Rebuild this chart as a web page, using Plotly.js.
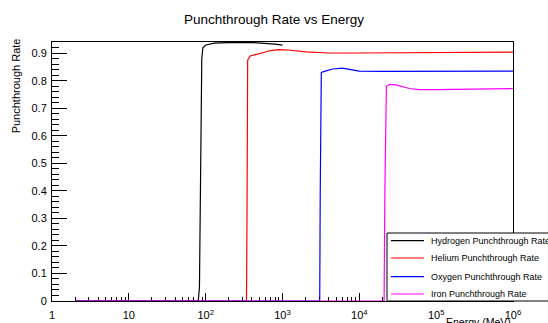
<!DOCTYPE html>
<html><head><meta charset="utf-8">
<script src="https://cdn.plot.ly/plotly-3.0.1.min.js"></script>
<style>html,body{margin:0;padding:0;background:#fff}#chart{width:548px;height:323px}</style>
</head><body><div id="chart"></div>
<script>
// Energy in MeV, punchthrough rate
const hydrogenE = [2, 80, 83, 85, 87, 89, 92, 100, 130, 200, 400, 600, 800, 1000];
const hydrogenR = [0, 0, 0.05, 0.4, 0.75, 0.88, 0.92, 0.93, 0.937, 0.939, 0.939, 0.937, 0.933, 0.93];
const heliumE = [2, 340, 345, 348, 352, 380, 500, 700, 900, 1200, 2000, 4000, 10000, 100000, 1000000];
const heliumR = [0, 0, 0.3, 0.8, 0.875, 0.89, 0.9, 0.91, 0.913, 0.912, 0.905, 0.901, 0.901, 0.902, 0.904];
const oxygenE = [2, 3050, 3100, 3150, 3200, 3600, 4500, 6000, 8000, 10000, 20000, 100000, 1000000];
const oxygenR = [0, 0, 0.4, 0.8, 0.83, 0.835, 0.843, 0.846, 0.84, 0.835, 0.834, 0.834, 0.835];
const ironE = [2, 21000, 21500, 22000, 22500, 25000, 30000, 45000, 60000, 100000, 300000, 1000000];
const ironR = [0, 0, 0.4, 0.75, 0.78, 0.787, 0.785, 0.772, 0.768, 0.768, 0.77, 0.772];
const seriesNames = ["Hydrogen Punchthrough Rate", "Helium Punchthrough Rate", "Oxygen Punchthrough Rate", "Iron Punchthrough Rate"];
const xTickVals = [1, 10, 100, 1000, 10000, 100000, 1000000];
const xTickText = ["1", "10", "10<sup>2</sup>", "10<sup>3</sup>", "10<sup>4</sup>", "10<sup>5</sup>", "10<sup>6</sup>"];

const FONT = "Liberation Sans, Arial, Helvetica, sans-serif";
const colors = ["#000000", "#ff0000", "#0000ff", "#ff00ff"];
const xs = [hydrogenE, heliumE, oxygenE, ironE];
const ys = [hydrogenR, heliumR, oxygenR, ironR];
const traces = xs.map((x, i) => ({
  x: x, y: ys[i], type: "scatter", mode: "lines", name: seriesNames[i], showlegend: false,
  line: {color: colors[i], width: 1.2}
}));

// Hand-built legend box (ROOT TLegend style), paper coordinates
const legX0 = 0.7267, legY1 = 0.2625;
const legRowY = [0.2328, 0.1660, 0.0938, 0.0270];
const shapes = [{type: "rect", xref: "paper", yref: "paper", x0: legX0, x1: 1.25, y0: 0, y1: legY1,
                 fillcolor: "#fff", line: {color: "#000", width: 1}, layer: "above"}];
const annotations = [
  {text: "Punchthrough Rate", xref: "paper", yref: "paper", x: -0.078, y: 1.02, xanchor: "center", yanchor: "top",
   textangle: -90, showarrow: false, font: {size: 11}},
  {text: "Energy (MeV)", xref: "paper", yref: "paper", x: 1, y: -0.05, xanchor: "right", yanchor: "top",
   showarrow: false, font: {size: 10.5}}
];
seriesNames.forEach((nm, i) => {
  shapes.push({type: "line", xref: "paper", yref: "paper", x0: 0.7354, x1: 0.8069, y0: legRowY[i], y1: legRowY[i],
               line: {color: colors[i], width: 1.2}, layer: "above"});
  annotations.push({text: nm, xref: "paper", yref: "paper", x: 0.8178, y: legRowY[i], xanchor: "left", yanchor: "middle",
                    showarrow: false, font: {size: 9}});
});

const layout = {
  width: 548, height: 323,
  margin: {l: 52, r: 35, t: 42, b: 22, autoexpand: false},
  paper_bgcolor: "#fff", plot_bgcolor: "#fff",
  font: {family: FONT, color: "#000", size: 11},
  title: {text: "Punchthrough Rate vs Energy", font: {size: 13.5, family: FONT}, x: 0.5, xanchor: "center", y: 0.94, yanchor: "middle"},
  showlegend: false,
  xaxis: {type: "log", range: [0, 6], tickmode: "array", tickvals: xTickVals, ticktext: xTickText,
          ticks: "inside", ticklen: 8, tickcolor: "#000", showgrid: false, zeroline: false, layer: "below traces",
          showline: true, linecolor: "#000", linewidth: 1, mirror: true, ticklabelstandoff: 4,
          tickfont: {size: 11},
          minor: {ticks: "inside", ticklen: 4, dtick: "D1", tickcolor: "#000", showgrid: false}},
  yaxis: {range: [0, 0.941], tickmode: "linear", tick0: 0, dtick: 0.1,
          ticks: "inside", ticklen: 15, tickcolor: "#000", showgrid: false, zeroline: false, layer: "below traces",
          showline: true, linecolor: "#000", linewidth: 1, mirror: true, ticklabelstandoff: 2,
          tickfont: {size: 11},
          minor: {ticks: "inside", ticklen: 7, dtick: 0.02, tickcolor: "#000", showgrid: false}},
  shapes: shapes,
  annotations: annotations
};
Plotly.newPlot("chart", traces, layout, {staticPlot: true, displayModeBar: false});
</script></body></html>
